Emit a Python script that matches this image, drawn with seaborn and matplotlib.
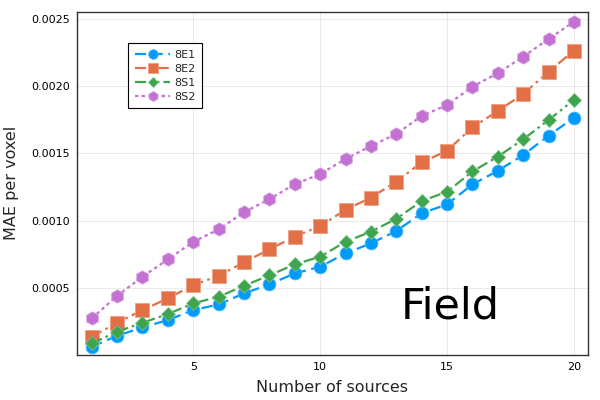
import matplotlib
matplotlib.use("Agg")
import matplotlib.pyplot as plt
import seaborn as sns
import numpy as np
import pandas as pd

sources = list(range(1, 21))
e1 = [0.000061, 0.000143, 0.000205, 0.000260, 0.000334, 0.000376, 0.000458, 0.000525, 0.000607, 0.000656,
      0.000756, 0.000830, 0.000922, 0.001054, 0.001120, 0.001269, 0.001370, 0.001487, 0.001631, 0.001765]
e2 = [0.000135, 0.000240, 0.000334, 0.000421, 0.000520, 0.000589, 0.000689, 0.000786, 0.000880, 0.000959,
      0.001080, 0.001170, 0.001290, 0.001432, 0.001519, 0.001693, 0.001815, 0.001941, 0.002107, 0.002263]
s1 = [0.000086, 0.000173, 0.000240, 0.000304, 0.000384, 0.000433, 0.000515, 0.000592, 0.000674, 0.000731,
      0.000842, 0.000917, 0.001013, 0.001145, 0.001214, 0.001365, 0.001475, 0.001604, 0.001748, 0.001897]
s2 = [0.000272, 0.000440, 0.000582, 0.000711, 0.000842, 0.000934, 0.001061, 0.001160, 0.001269, 0.001346,
      0.001458, 0.001554, 0.001644, 0.001778, 0.001859, 0.001996, 0.002095, 0.002219, 0.002350, 0.002479]
labels = ["8E1", "8E2", "8S1", "8S2"]
yticks = [0.0005, 0.0010, 0.0015, 0.0020, 0.0025]
xticks = [5, 10, 15, 20]

sns.set_theme(style="white")
plt.rcParams['font.family'] = ['DejaVu Sans']

fig, ax = plt.subplots(figsize=(6, 4), dpi=100)
fig.subplots_adjust(left=0.1283, right=0.9795, top=0.9708, bottom=0.1125)

colors = ["#009AFA", "#E36F47", "#3EA44E", "#C371D2"]
edges = ["#4DB8FC", "#EE9F84", "#78C184", "#D59DE0"]
markers = ["o", "s", "D", "h"]
msizes = [9.2, 9.6, 7.2, 9.6]
styles = [(0, (5, 2.5)), (0, (5, 2, 1.2, 2)), (0, (5, 1.8, 1.2, 1.8, 1.2, 1.8)), (0, (1.5, 1.5))]

for vals, lab, c, ec, m, ms, ls in zip([e1, e2, s1, s2], labels, colors, edges, markers, msizes, styles):
    df = pd.DataFrame({"x": sources, "y": vals})
    sns.lineplot(data=df, x="x", y="y", ax=ax, color=c, marker=m, markersize=ms,
                 linestyle=ls, linewidth=1.6, markeredgecolor=ec, markeredgewidth=0.6,
                 label=lab)

ax.set_xlim(0.42, 20.54)
ax.set_ylim(0.0, 0.002553)
ax.set_xticks(xticks)
ax.set_yticks(yticks)
ax.set_yticklabels([f"{v:.4f}" for v in yticks])
ax.tick_params(direction="in", length=4, width=0.8, labelsize=8, colors="black", pad=5)
ax.grid(True, color="#000000", alpha=0.08, linewidth=0.8)
for sp in ax.spines.values():
    sp.set_color("#333333")
    sp.set_linewidth(1)
ax.set_xlabel("Number of sources", fontsize=11.5, labelpad=6)
ax.set_ylabel("MAE per voxel", fontsize=11.5, labelpad=9)

ax.text(15.13, 0.000272, "Field", fontsize=31, ha="center", va="baseline", color="black")

leg = ax.legend(loc="upper left", bbox_to_anchor=(0.1004, 0.908), fontsize=8, frameon=True,
                fancybox=False, framealpha=1, edgecolor="black", handlelength=3.2,
                borderpad=0.6, labelspacing=0.35, handletextpad=0.35, borderaxespad=0,
                markerscale=0.75)
leg.get_frame().set_linewidth(0.8)

fig.savefig("out.png", dpi=100)
